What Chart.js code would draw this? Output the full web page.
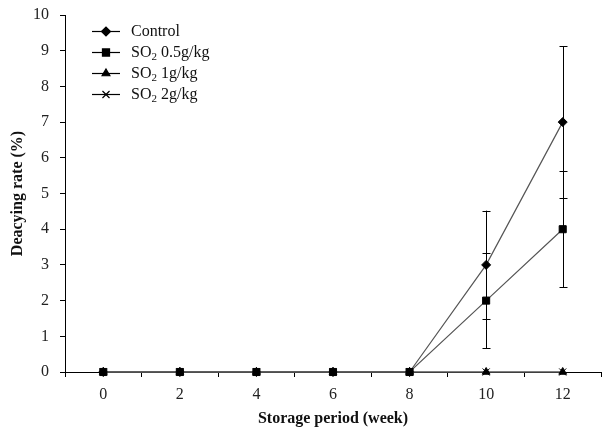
<!DOCTYPE html>
<html>
<head>
<meta charset="utf-8">
<script src="https://cdn.jsdelivr.net/npm/chart.js@4.4.0/dist/chart.umd.min.js"></script>
<style>
  html, body { margin: 0; padding: 0; background: #fff; }
  #wrap { width: 602px; height: 434px; }
</style>
</head>
<body>
<div id="wrap"><canvas id="myChart"></canvas></div>
<script>
// data
var weeks = ['0', '2', '4', '6', '8', '10', '12'];
var control = [0, 0, 0, 0, 0, 3, 7];
var controlErr = [0, 0, 0, 0, 0, 1.52, 2.13];
var so2Half = [0, 0, 0, 0, 0, 2, 4];
var so2HalfErr = [0, 0, 0, 0, 0, 1.34, 1.62];
var so2One = [0, 0, 0, 0, 0, 0, 0];
var so2Two = [0, 0, 0, 0, 0, 0, 0];
var yTicks = [0, 1, 2, 3, 4, 5, 6, 7, 8, 9, 10];

var serif = "'Liberation Serif', 'Times New Roman', serif";

// vertical error bars with caps
const errorBars = {
    id: 'errorBars',
    afterDatasetsDraw: function (chart) {
        const ctx = chart.ctx;
        const x = chart.scales.x, y = chart.scales.y;
        ctx.save();
        ctx.strokeStyle = '#000';
        ctx.lineWidth = 1;
        chart.data.datasets.forEach(function (ds) {
            if (!ds.err) return;
            ds.data.forEach(function (v, i) {
                var e = ds.err[i];
                if (!e) return;
                var px = Math.round(x.getPixelForValue(i)) + 0.5;
                var top = y.getPixelForValue(v + e);
                var bot = y.getPixelForValue(v - e);
                ctx.beginPath();
                ctx.moveTo(px, top); ctx.lineTo(px, bot);
                ctx.moveTo(px - 4, Math.round(top) + 0.5); ctx.lineTo(px + 4, Math.round(top) + 0.5);
                ctx.moveTo(px - 4, Math.round(bot) + 0.5); ctx.lineTo(px + 4, Math.round(bot) + 0.5);
                ctx.stroke();
            });
        });
        ctx.restore();
    }
};

// legend inside the plot, line + marker + text (SO with subscript 2)
const innerLegend = {
    id: 'innerLegend',
    afterDraw: function (chart) {
        const ctx = chart.ctx;
        var items = [
            { ds: 3, pre: 'Control', sub: '', post: '' },
            { ds: 0, pre: 'SO', sub: '2', post: ' 0.5g/kg' },
            { ds: 1, pre: 'SO', sub: '2', post: ' 1g/kg' },
            { ds: 2, pre: 'SO', sub: '2', post: ' 2g/kg' }
        ];
        ctx.save();
        items.forEach(function (it, k) {
            var ds = chart.data.datasets[it.ds];
            var cy = 31 + k * 21;
            ctx.strokeStyle = '#000';
            ctx.lineWidth = 1.2;
            ctx.beginPath();
            ctx.moveTo(92, cy + 0.5); ctx.lineTo(120, cy + 0.5);
            ctx.stroke();
            ctx.fillStyle = '#000';
            Chart.helpers.drawPoint(ctx, {
                pointStyle: ds.pointStyle, radius: ds.pointRadius, rotation: 0, borderWidth: 1
            }, 106, cy + 0.5);
            ctx.fillStyle = '#111';
            ctx.textBaseline = 'middle';
            ctx.font = '16px ' + serif;
            var tx = 131;
            ctx.fillText(it.pre, tx, cy + 1);
            tx += ctx.measureText(it.pre).width;
            if (it.sub) {
                ctx.font = '11px ' + serif;
                ctx.fillText(it.sub, tx, cy + 5);
                tx += ctx.measureText(it.sub).width;
                ctx.font = '16px ' + serif;
                ctx.fillText(it.post, tx, cy + 1);
            }
        });
        ctx.restore();
    }
};

const ctx = document.getElementById('myChart');

new Chart(ctx, {
    type: 'line',
    data: {
        labels: weeks,
        datasets: [{
            label: 'SO2 0.5g/kg',
            data: so2Half,
            err: so2HalfErr,
            pointStyle: 'rect',
            pointRadius: 5,
            order: 0
        }, {
            label: 'SO2 1g/kg',
            data: so2One,
            pointStyle: 'triangle',
            pointRadius: 4.5,
            order: 1
        }, {
            label: 'SO2 2g/kg',
            data: so2Two,
            pointStyle: 'crossRot',
            pointRadius: 5,
            order: 2
        }, {
            label: 'Control',
            data: control,
            err: controlErr,
            pointStyle: 'rectRot',
            pointRadius: 4.5,
            order: 3
        }].map(function (d) {
            d.borderColor = '#555';
            d.borderWidth = 1.2;
            d.backgroundColor = '#000';
            d.pointBackgroundColor = '#000';
            d.pointBorderColor = '#000';
            d.pointBorderWidth = 1;
            d.tension = 0;
            d.clip = false;
            return d;
        })
    },
    options: {
        responsive: true,
        maintainAspectRatio: false,
        animation: false,
        devicePixelRatio: 1,
        layout: { autoPadding: false, padding: { top: 15, right: 1, left: 0, bottom: 0 } },
        plugins: {
            legend: { display: false },
            tooltip: { enabled: false }
        },
        scales: {
            x: {
                type: 'category',
                offset: true,
                grid: { offset: true, drawOnChartArea: false, tickLength: 5, color: '#000', lineWidth: 1 },
                border: { color: '#000', width: 1 },
                ticks: { color: '#222', padding: 8, font: { family: serif, size: 16 } },
                title: {
                    display: true, text: 'Storage period (week)', color: '#111',
                    font: { family: serif, size: 16, weight: 'bold' }, padding: { top: 0, bottom: 6 }
                },
                afterFit: function (s) { s.height = 62; s.paddingLeft = 0; s.paddingRight = 0; }
            },
            y: {
                min: 0,
                max: 10,
                afterBuildTicks: function (s) { s.ticks = yTicks.map(function (v) { return { value: v }; }); },
                grid: { drawOnChartArea: false, tickLength: 5, color: '#000', lineWidth: 1 },
                border: { color: '#000', width: 1 },
                ticks: { color: '#222', padding: 11, font: { family: serif, size: 16 } },
                title: {
                    display: true, text: 'Deacying rate (%)', color: '#111',
                    font: { family: serif, size: 16, weight: 'bold' }, padding: { top: 8, bottom: 0 }
                },
                afterFit: function (s) { s.width = 65; s.paddingTop = 0; s.paddingBottom = 0; }
            }
        }
    },
    plugins: [errorBars, innerLegend]
});
</script>
</body>
</html>
